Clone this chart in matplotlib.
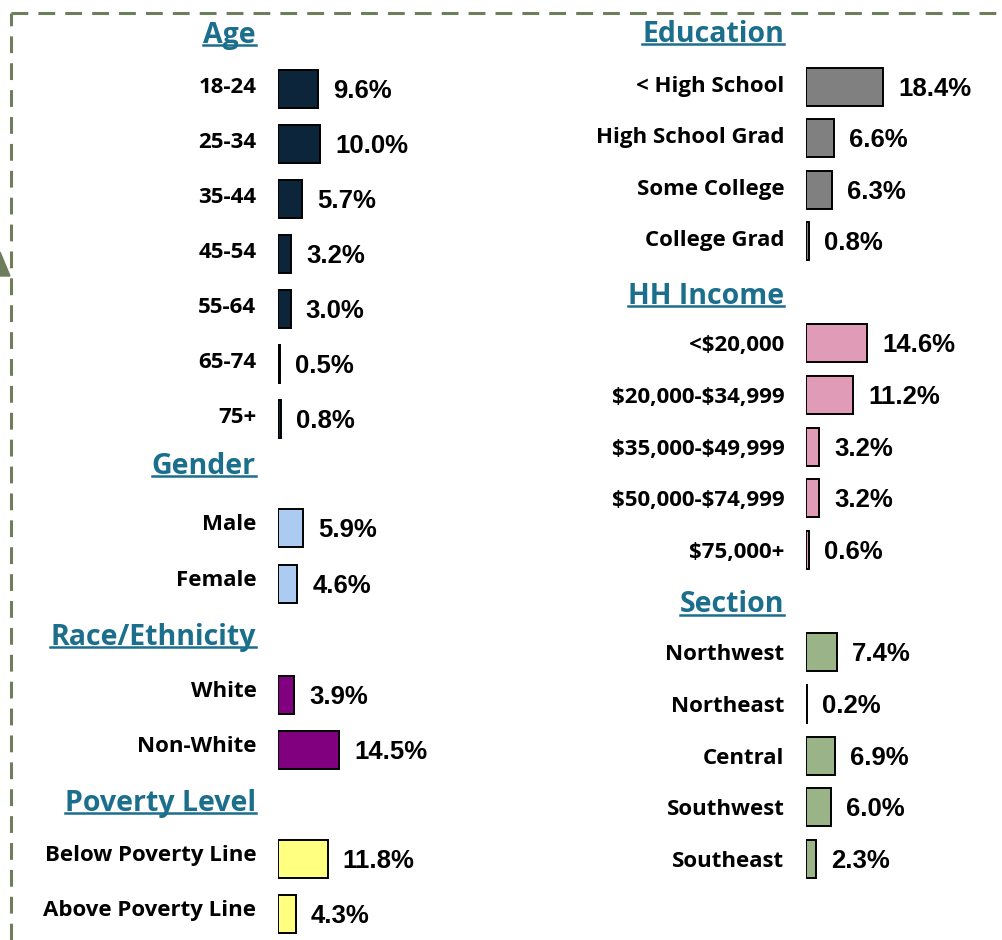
import matplotlib
matplotlib.use("Agg")
import matplotlib.pyplot as plt
from matplotlib.patches import Polygon
from matplotlib.lines import Line2D
from matplotlib.transforms import ScaledTranslation

plt.rcParams["text.parse_math"] = False

# demographic breakdown, percent
age_labels = ["18-24", "25-34", "35-44", "45-54", "55-64", "65-74", "75+"]
age_values = [9.6, 10.0, 5.7, 3.2, 3.0, 0.5, 0.8]
gender_labels = ["Male", "Female"]
gender_values = [5.9, 4.6]
race_labels = ["White", "Non-White"]
race_values = [3.9, 14.5]
poverty_labels = ["Below Poverty Line", "Above Poverty Line"]
poverty_values = [11.8, 4.3]
edu_labels = ["< High School", "High School Grad", "Some College", "College Grad"]
edu_values = [18.4, 6.6, 6.3, 0.8]
income_labels = ["<$20,000", "$20,000-$34,999", "$35,000-$49,999",
                 "$50,000-$74,999", "$75,000+"]
income_values = [14.6, 11.2, 3.2, 3.2, 0.6]
section_labels = ["Northwest", "Northeast", "Central", "Southwest", "Southeast"]
section_values = [7.4, 0.2, 6.9, 6.0, 2.3]

W, H = 1002, 940
PX_PER_PCT = 4.2
TEAL = "#1b6f8c"
LABEL_FONT = "Open Sans"
VALUE_FONT = "Liberation Sans"

fig = plt.figure(figsize=(W / 100, H / 100), dpi=100)
fig.patch.set_facecolor("white")


def group(title, labels, values, color, x0, first_y, step, title_y, lift=0):
    n = len(labels)
    top = first_y - step / 2
    ax = fig.add_axes([x0 / W, 1 - (top + n * step) / H, 220 / W, n * step / H])
    ax.barh(range(n), values, height=38 / step, color=color,
            edgecolor="black", linewidth=1.4)
    ax.set_xlim(0, 220 / PX_PER_PCT)
    ax.set_ylim(n - 0.5, -0.5)
    for s in ax.spines.values():
        s.set_visible(False)
    ax.set_xticks([])
    ax.set_yticks(range(n), labels)
    ax.tick_params(axis="y", length=0, pad=15.5)
    shift = ScaledTranslation(0, lift / 100, fig.dpi_scale_trans)
    for t in ax.get_yticklabels():
        t.set_fontfamily(LABEL_FONT)
        t.set_fontweight("bold")
        t.set_fontsize(16)
    for tick in ax.yaxis.get_major_ticks():
        tick.label1.set_transform(tick.label1.get_transform() + shift)
    for i, v in enumerate(values):
        ax.annotate(f"{v:.1f}%", xy=(v, i), xytext=(15, -2),
                    textcoords="offset pixels", ha="left", va="center",
                    fontfamily=VALUE_FONT, fontweight="bold", fontsize=18.5)
    ax.patch.set_visible(False)
    ht = fig.text((x0 - 22) / W, 1 - title_y / H, title, ha="right", va="center",
                  color=TEAL, fontfamily=LABEL_FONT, fontweight="bold", fontsize=20.5)
    return ht


titles = [
    group("Age", age_labels, age_values, "#0c253a", 278, 89, 55, 35, lift=4),
    group("Gender", gender_labels, gender_values, "#abcbf0", 278, 528, 56, 466, lift=6),
    group("Race/Ethnicity", race_labels, race_values, "#800080", 278, 695, 55, 637, lift=6),
    group("Poverty Level", poverty_labels, poverty_values, "#ffff80", 278, 859, 55, 803, lift=6),
    group("Education", edu_labels, edu_values, "#808080", 806, 87, 51.3, 34, lift=3),
    group("HH Income", income_labels, income_values, "#e09cb6", 806, 343, 51.8, 296),
    group("Section", section_labels, section_values, "#9bb487", 806, 652, 51.8, 605),
]

# underline the section headings
fig.canvas.draw()
renderer = fig.canvas.get_renderer()
for t in titles:
    bb = t.get_window_extent(renderer)
    y = bb.y0 + 0.16 * bb.height
    fig.add_artist(Line2D([bb.x0 / W, bb.x1 / W], [y / H, y / H],
                          color=TEAL, linewidth=1.8))

# dashed frame and pointer
frame = "#6e7d5c"
fig.add_artist(Line2D([11 / W, 11 / W], [0, 1 - 13 / H], color=frame,
                      linewidth=2.2, linestyle=(0, (5.5, 3.3))))
fig.add_artist(Line2D([11 / W, 1], [1 - 13 / H, 1 - 13 / H], color=frame,
                      linewidth=2.2, linestyle=(0, (5.5, 3.3))))
fig.add_artist(Polygon([[0, 1 - 252 / H], [10 / W, 1 - 276 / H], [0, 1 - 276 / H]],
                       closed=True, color=frame, transform=fig.transFigure))

fig.savefig("out.png", dpi=100)
